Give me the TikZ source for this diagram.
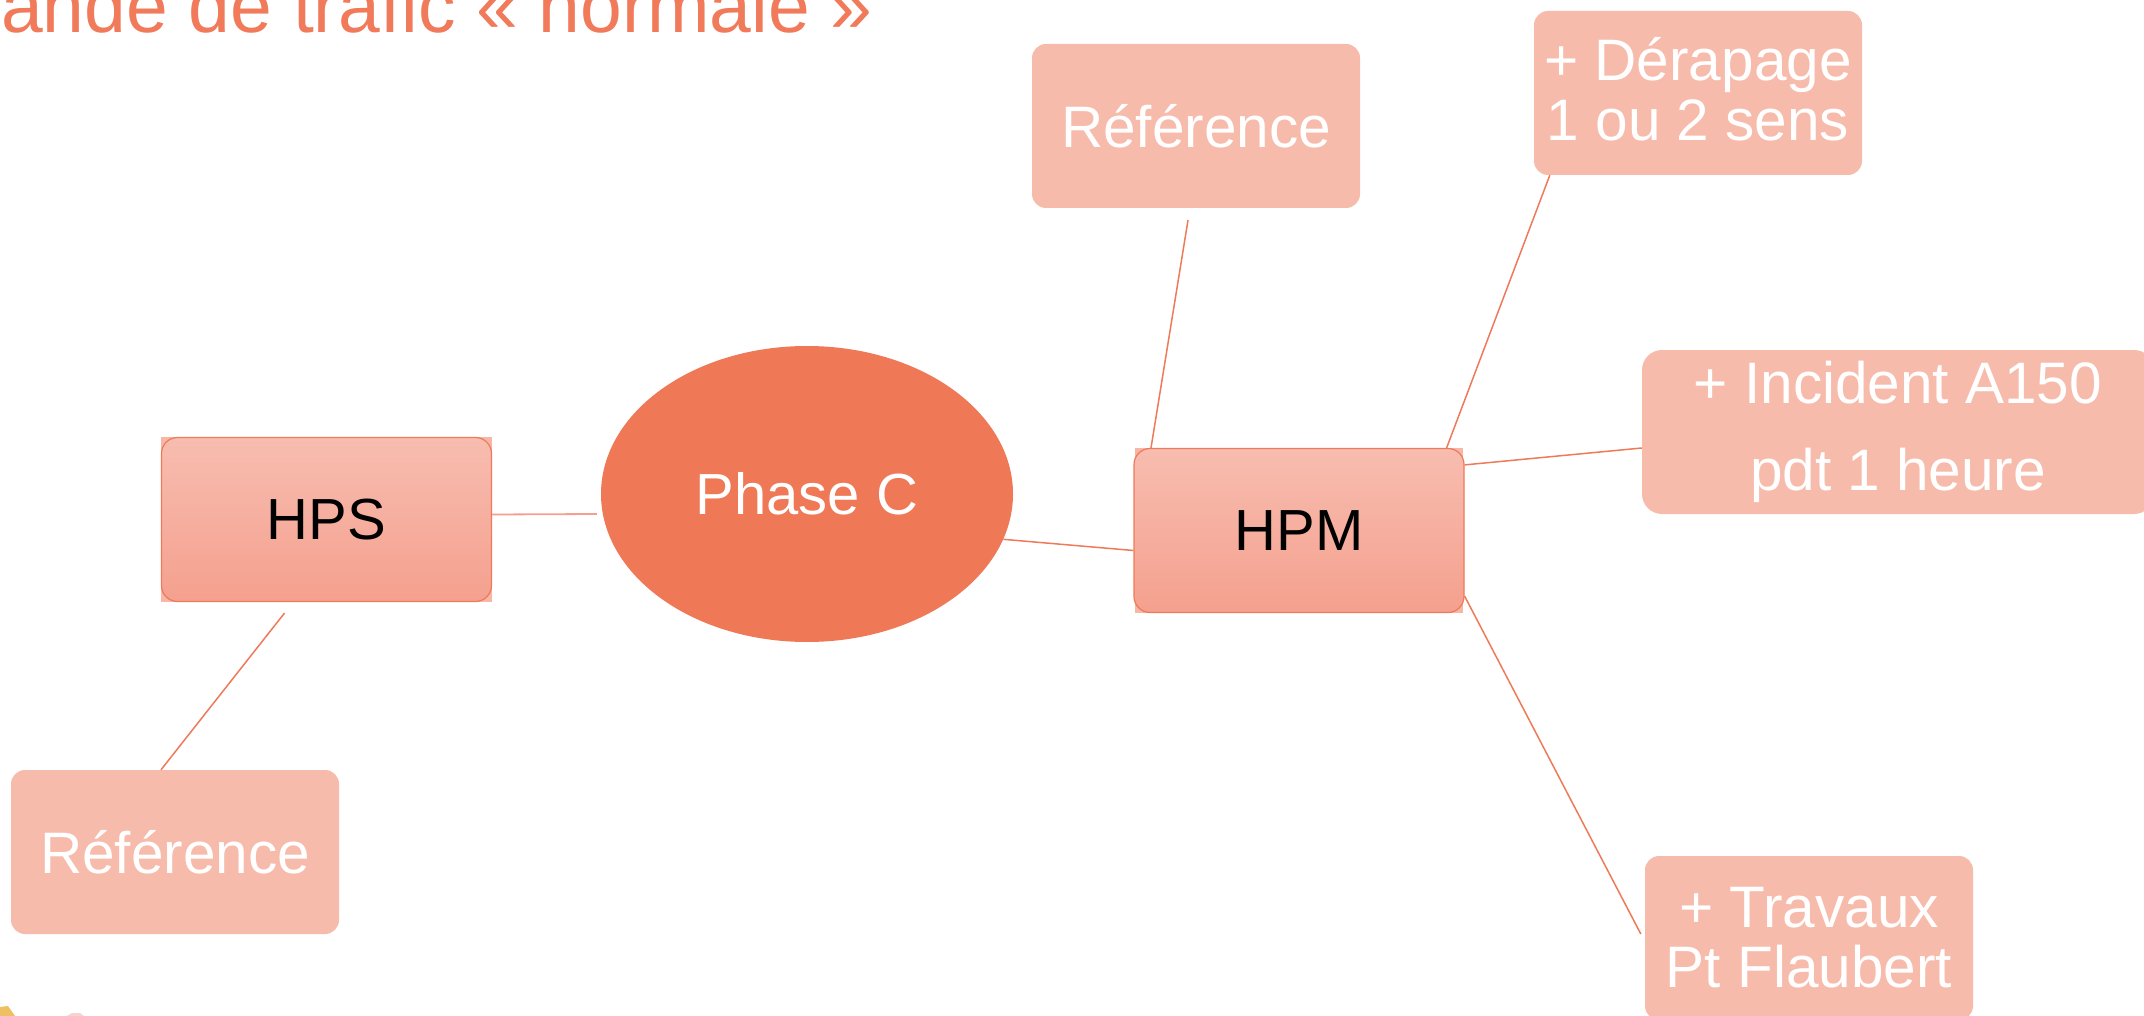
\documentclass[tikz,border=0pt]{standalone}
\usepackage{fontspec}
\setmainfont{Liberation Sans}
\usetikzlibrary{shapes.geometric}
\definecolor{leaffill}{HTML}{F7BBAC}
\definecolor{phasefill}{HTML}{EF7857}
\definecolor{edgecol}{HTML}{EF7A5A}
\definecolor{hubtop}{HTML}{F7BDB0}
\definecolor{hubbot}{HTML}{F5A08E}
\definecolor{hubsq}{HTML}{F7B6A6}
\definecolor{titlecol}{HTML}{F07A5A}
\definecolor{logoyel}{HTML}{EFC061}
\definecolor{logopink}{HTML}{F6D3CC}
\tikzset{
  leaf/.style={rounded corners=14pt, fill=leaffill, text=white,
    font=\fontsize{58.5pt}{60pt}\selectfont, align=center,
    minimum width=328pt, minimum height=164pt, inner sep=0pt},
  hub/.style={rounded corners=16pt, draw=edgecol, line width=1.2pt,
    top color=hubtop, bottom color=hubbot, text=black,
    font=\fontsize{58pt}{60pt}\selectfont,
    minimum width=330pt, minimum height=164pt, inner sep=0pt},
  link/.style={draw=edgecol, line width=1.5pt},
  softlink/.style={draw=hubbot, line width=1.8pt}
}
\begin{document}
\begin{tikzpicture}[x=1pt,y=-1pt]
\useasboundingbox (0,0) rectangle (2144,1016);
\clip (0,0) rectangle (2144,1016);
\fill[white] (0,0) rectangle (2144,1016);

% title (cut off at top/left, as in the reference)
\node[anchor=base west, inner sep=0pt, text=titlecol,
  font=\fontsize{75pt}{80pt}\selectfont] (title) at (1,33) {ande de trafic « normale »};

% square backgrounds behind the hub boxes
\fill[hubsq] (161,437) rectangle (492,602);
\fill[hubsq] (1135,448) rectangle (1463,613);

% nodes
\node[hub] (hps) at (326.5,519.5) {HPS};
\node[hub] (hpm) at (1299,530.5) {HPM};
\node[ellipse, fill=phasefill, text=white, minimum width=412pt, minimum height=296pt,
  inner sep=0pt, font=\fontsize{58pt}{60pt}\selectfont] (phase) at (807,494) {Phase C};
\node[leaf] (ref1) at (1196,126) {Référence};
\node[leaf] (ref2) at (175,852) {Référence};
\node[leaf] (derap) at (1698,93) {+ Dérapage\\1 ou 2 sens\\[-52pt]\mbox{}};
\node[leaf, rounded corners=20pt, minimum width=512pt,
  font=\fontsize{58.5pt}{87pt}\selectfont] (incid) at (1898,432) {+ Incident A150\\pdt 1 heure};
\node[leaf] (trav) at (1809,938) {+ Travaux\\Pt Flaubert};

% connectors
\draw[softlink] ([yshift=5pt]hps.east) -- ([yshift=-20pt,xshift=-4pt]phase.west);
\draw[link] (phase.-13) -- ([yshift=-20pt]hpm.west);
\draw[link] ([xshift=-42pt,yshift=-11pt]hps.south) -- ([xshift=-14pt]ref2.north);
\draw[link] ([xshift=-148pt]hpm.north) -- ([xshift=-8pt,yshift=-12pt]ref1.south);
\draw[link] ([xshift=-18pt]hpm.north east) -- ([xshift=16pt]derap.south west);
\draw[link] ([yshift=-17pt]hpm.north east) -- ([yshift=-16pt]incid.west);
\draw[link] ([yshift=17pt]hpm.south east) -- ([xshift=-4pt,yshift=4pt]trav.west);

% tiny logo fragment at bottom left
\fill[logoyel] (0,1016) -- (0,1007) -- (8,1006) -- (15,1016) -- cycle;
\fill[logopink] (67,1016) -- (72,1013) -- (80,1013) -- (84,1016) -- cycle;
\end{tikzpicture}
\end{document}
